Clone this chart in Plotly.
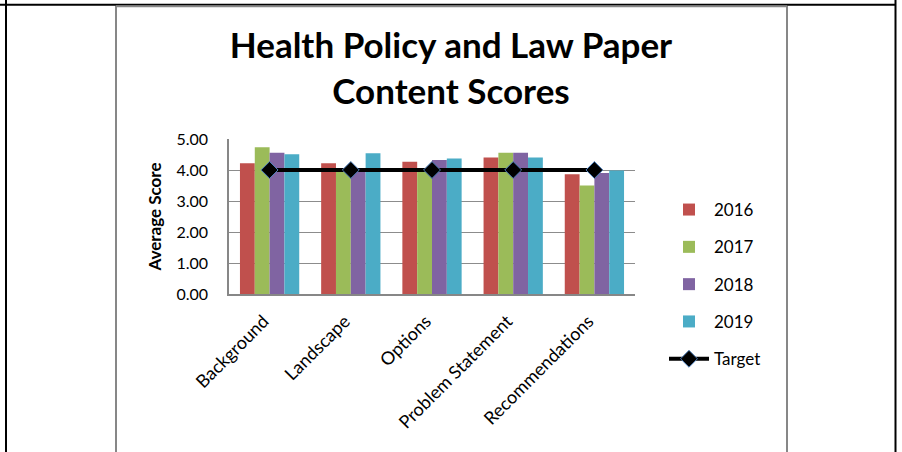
import plotly.graph_objects as go

categories = ["Background", "Landscape", "Options", "Problem Statement", "Recommendations"]
scores_2016 = [4.22, 4.22, 4.27, 4.40, 3.86]
scores_2017 = [4.73, 4.00, 4.00, 4.56, 3.50]
scores_2018 = [4.56, 4.02, 4.32, 4.56, 3.90]
scores_2019 = [4.51, 4.54, 4.37, 4.40, 3.98]
target = [4.0, 4.0, 4.0, 4.0, 4.0]
y_ticks = [0, 1, 2, 3, 4, 5]

W, H = 902, 452
L, R, T, B = 229, 267, 139, 158
PW, PH = W - L - R, H - T - B

def fx(px):
    return (px - L) / PW

def fy(py):
    return (H - B - py) / PH

FONT = "Lato, 'Open Sans', sans-serif"

fig = go.Figure()
series = [("2016", scores_2016, "#C0504D"), ("2017", scores_2017, "#9BBB59"),
          ("2018", scores_2018, "#8064A2"), ("2019", scores_2019, "#4BACC6")]
for name, vals, col in series:
    fig.add_trace(go.Bar(x=categories, y=vals, name=name, marker=dict(color=col, line=dict(width=0)),
                         legendgroup=name))
fig.add_trace(go.Scatter(x=categories, y=target, name="Target", mode="lines+markers",
                         line=dict(color="black", width=4),
                         marker=dict(symbol="diamond", size=13, color="black",
                                     line=dict(color="#4F81BD", width=1)),
                         legendgroup="Target"))

shapes = [
    dict(type="line", xref="paper", yref="paper", x0=fx(0), x1=fx(896), y0=fy(4.8), y1=fy(4.8),
         line=dict(color="black", width=2)),
    dict(type="line", xref="paper", yref="paper", x0=fx(6), x1=fx(6), y0=fy(0), y1=fy(452),
         line=dict(color="black", width=2)),
    dict(type="line", xref="paper", yref="paper", x0=fx(895.5), x1=fx(895.5), y0=fy(0), y1=fy(452),
         line=dict(color="black", width=2)),
    dict(type="line", xref="paper", yref="paper", x0=fx(116), x1=fx(787), y0=fy(6.2), y1=fy(6.2),
         line=dict(color="#878787", width=2)),
    dict(type="line", xref="paper", yref="paper", x0=fx(116), x1=fx(116), y0=fy(6), y1=fy(452),
         line=dict(color="#878787", width=2)),
    dict(type="line", xref="paper", yref="paper", x0=fx(787), x1=fx(787), y0=fy(6), y1=fy(452),
         line=dict(color="#878787", width=2)),
]

fig.update_layout(
    width=W, height=H,
    margin=dict(l=L, r=R, t=T, b=B, autoexpand=False),
    paper_bgcolor="white", plot_bgcolor="white",
    barmode="group", bargap=0.27, bargroupgap=0,
    font=dict(family=FONT, color="black"),
    title=dict(text="Health Policy and Law Paper<br>Content Scores",
               x=0.5, xref="container", xanchor="center",
               y=1 - 58 / H, yref="container", yanchor="top",
               font=dict(family=FONT, size=35, color="black", weight="bold")),
    xaxis=dict(tickangle=-45, tickfont=dict(size=18), showline=True, linecolor="#878787", linewidth=1.5,
               ticks="", ticklabelstandoff=8, ticklabelshift=-6, showgrid=False),
    yaxis=dict(range=[0, 5], tickvals=y_ticks, tickformat=".2f", tickfont=dict(size=16),
               showgrid=True, gridcolor="#8C8C8C", gridwidth=1, showline=True, linecolor="#878787",
               linewidth=1.5, ticks="", ticklabelstandoff=16, zeroline=False,
               title=dict(text="<b>Average Score</b>", font=dict(size=17), standoff=10)),
    legend=dict(x=fx(664), xanchor="left", y=fy(192), yanchor="top", font=dict(size=17),
                traceorder="grouped", tracegroupgap=12.2, bgcolor="rgba(0,0,0,0)", maxheight=420,
                itemwidth=40),
    showlegend=True,
    shapes=shapes,
)

fig.write_html("out.html", config={"displayModeBar": False},
               post_script="document.body.style.margin='0';")
